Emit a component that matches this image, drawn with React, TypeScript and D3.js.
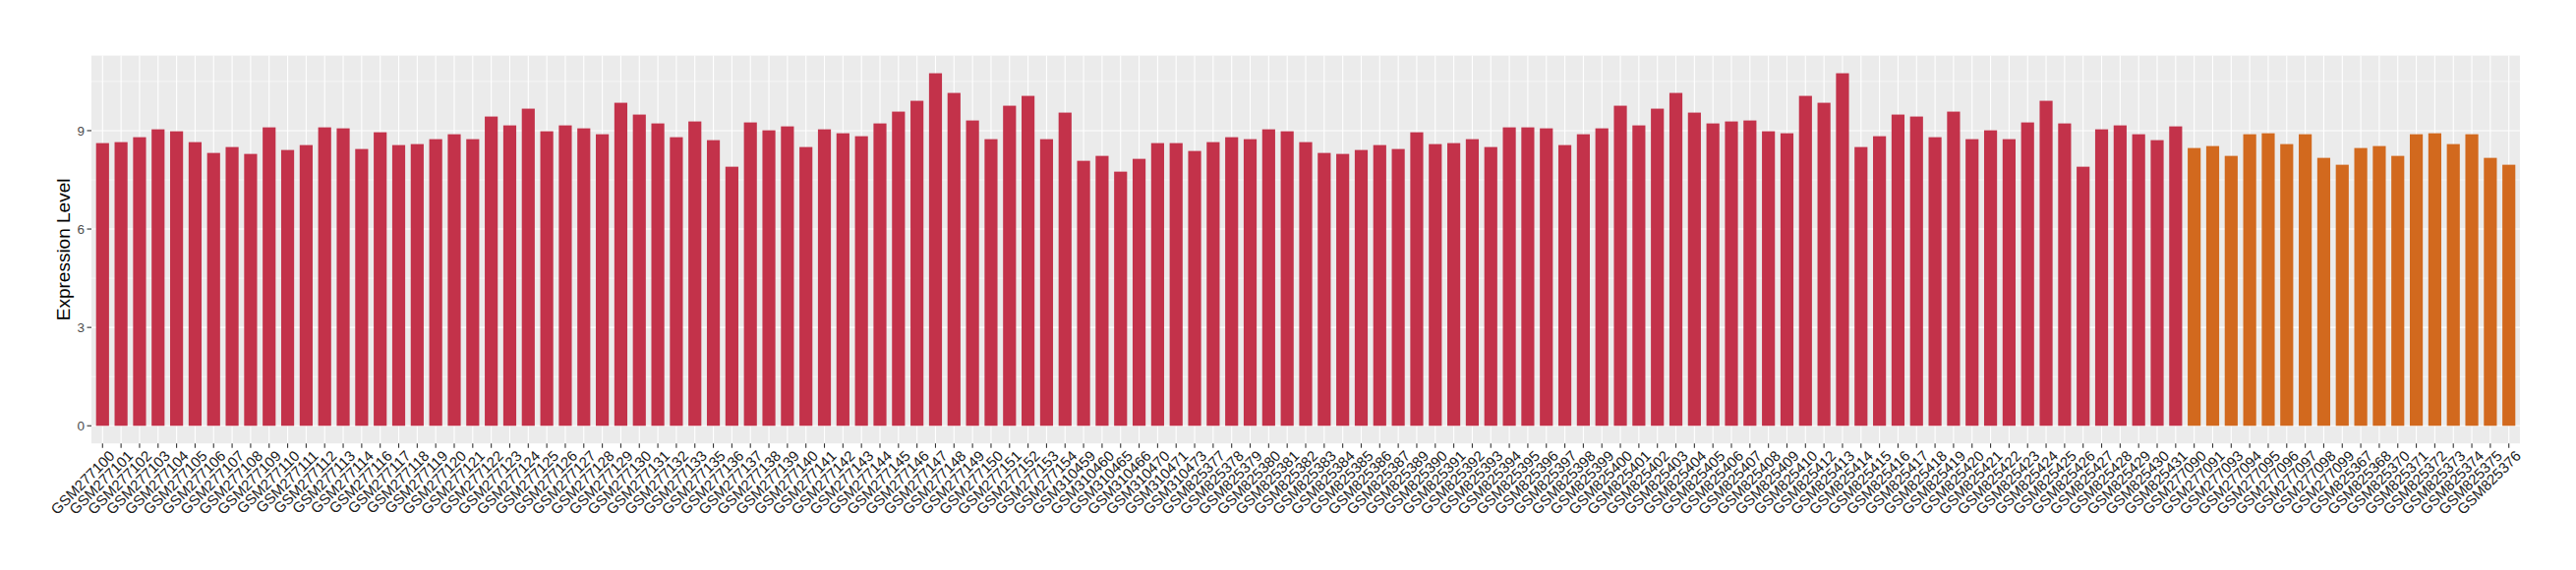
import React from "react";
import * as d3 from "d3";

const redSamples = [
  "GSM277100","GSM277101","GSM277102","GSM277103","GSM277104","GSM277105","GSM277106","GSM277107","GSM277108","GSM277109",
  "GSM277110","GSM277111","GSM277112","GSM277113","GSM277114","GSM277116","GSM277117","GSM277118","GSM277119","GSM277120",
  "GSM277121","GSM277122","GSM277123","GSM277124","GSM277125","GSM277126","GSM277127","GSM277128","GSM277129","GSM277130",
  "GSM277131","GSM277132","GSM277133","GSM277135","GSM277136","GSM277137","GSM277138","GSM277139","GSM277140","GSM277141",
  "GSM277142","GSM277143","GSM277144","GSM277145","GSM277146","GSM277147","GSM277148","GSM277149","GSM277150","GSM277151",
  "GSM277152","GSM277153","GSM277154",
  "GSM310459","GSM310460","GSM310465","GSM310466","GSM310470","GSM310471","GSM310473",
  "GSM825377","GSM825378","GSM825379","GSM825380","GSM825381","GSM825382","GSM825383","GSM825384","GSM825385","GSM825386",
  "GSM825387","GSM825389","GSM825390","GSM825391","GSM825392","GSM825393","GSM825394","GSM825395","GSM825396","GSM825397",
  "GSM825398","GSM825399","GSM825400","GSM825401","GSM825402","GSM825403","GSM825404","GSM825405","GSM825406","GSM825407",
  "GSM825408","GSM825409","GSM825410","GSM825412","GSM825413","GSM825414","GSM825415","GSM825416","GSM825417","GSM825418",
  "GSM825419","GSM825420","GSM825421","GSM825422","GSM825423","GSM825424","GSM825425","GSM825426","GSM825427","GSM825428",
  "GSM825429","GSM825430","GSM825431",
];
const redValues = [
  8.62, 8.65, 8.80, 9.04, 8.98, 8.65, 8.32, 8.50, 8.29, 9.10, 8.41, 8.56, 9.10, 9.07, 8.44, 8.95, 8.56, 8.59, 8.74, 8.89, 8.74, 9.43, 9.16, 9.67, 8.98, 9.16,
  9.07, 8.89, 9.85, 9.49, 9.22, 8.80, 9.28, 8.71, 7.90, 9.25, 9.01, 9.13, 8.50, 9.04, 8.92, 8.83, 9.22, 9.58, 9.91, 10.75, 10.15, 9.31, 8.74, 9.76, 10.06, 8.74,
  9.55, 8.08, 8.23, 7.75, 8.14, 8.62, 8.62, 8.38, 8.65, 8.80, 8.74, 9.04, 8.98, 8.65, 8.32, 8.29, 8.41, 8.56, 8.44, 8.95, 8.59, 8.62, 8.74, 8.50, 9.10, 9.10, 9.07,
  8.56, 8.89, 9.07, 9.76, 9.16, 9.67, 10.15, 9.55, 9.22, 9.28, 9.31, 8.98, 8.92, 10.06, 9.85, 10.75, 8.50, 8.83, 9.49, 9.43, 8.80, 9.58, 8.74, 9.01, 8.74, 9.25,
  9.91, 9.22, 7.90, 9.04, 9.16, 8.89, 8.71, 9.13,
];
const orangeSamples = [
  "GSM277090","GSM277091","GSM277093","GSM277094","GSM277095","GSM277096","GSM277097","GSM277098","GSM277099",
  "GSM825367","GSM825368","GSM825370","GSM825371","GSM825372","GSM825373","GSM825374","GSM825375","GSM825376",
];
const orangeValues = [8.47, 8.53, 8.23, 8.89, 8.92, 8.59, 8.89, 8.17, 7.96, 8.47, 8.53, 8.23, 8.89, 8.92, 8.59, 8.89, 8.17, 7.96];
const yTicks = [0, 3, 6, 9];
const yMinorTicks = [1.5, 4.5, 7.5, 10.5];
const groupColors = { red: "#C3324A", orange: "#D2691E" };
const yTitle = "Expression Level";

const data = [
  ...redSamples.map((s, i) => ({ sample: s, value: redValues[i], group: "red" })),
  ...orangeSamples.map((s, i) => ({ sample: s, value: orangeValues[i], group: "orange" })),
];

export default function App() {
  const W = 2620, H = 580;
  const left = 93, right = 2563, top = 56.6, bottom = 451.2;
  const font = "'Liberation Sans', Arial, Helvetica, sans-serif";
  const x = d3.scaleBand<string>()
    .domain(data.map((d) => d.sample))
    .range([left, right])
    .paddingInner(0.3)
    .paddingOuter(0.25);
  const ymax = d3.max(data, (d) => d.value) as number;
  const pad = ymax * 0.05;
  const y = d3.scaleLinear().domain([-pad, ymax + pad]).range([bottom, top]);
  const bw = x.bandwidth();
  const cx = (s: string) => (x(s) as number) + bw / 2;

  return (
    <svg width={W} height={H} style={{ position: "absolute", left: 0, top: 0, background: "#fff" }}
      fontFamily={font}>
      <rect x={left} y={top} width={right - left} height={bottom - top} fill="#EBEBEB" />
      {yMinorTicks.map((t) => (
        <line key={"mn" + t} x1={left} x2={right} y1={y(t)} y2={y(t)} stroke="#fff" strokeWidth={0.55} />
      ))}
      {yTicks.map((t) => (
        <line key={"mj" + t} x1={left} x2={right} y1={y(t)} y2={y(t)} stroke="#fff" strokeWidth={1.1} />
      ))}
      {data.map((d) => (
        <line key={"vg" + d.sample} x1={cx(d.sample)} x2={cx(d.sample)} y1={top} y2={bottom} stroke="#fff" strokeWidth={1.1} />
      ))}
      {data.map((d) => (
        <rect key={"b" + d.sample} x={x(d.sample)} width={bw} y={y(d.value)} height={y(0) - y(d.value)}
          fill={(groupColors as any)[d.group]} />
      ))}
      {yTicks.map((t) => (
        <g key={"yt" + t}>
          <line x1={left - 4.5} x2={left} y1={y(t)} y2={y(t)} stroke="#333" strokeWidth={1.1} />
          <text x={left - 7} y={y(t)} dy="0.35em" textAnchor="end" fontSize={13.5} fill="#4D4D4D">{t}</text>
        </g>
      ))}
      {data.map((d) => (
        <g key={"xt" + d.sample}>
          <line x1={cx(d.sample)} x2={cx(d.sample)} y1={bottom} y2={bottom + 4.5} stroke="#333" strokeWidth={1.1} />
          <text transform={`translate(${cx(d.sample) + 5.5},${bottom + 6}) rotate(-45)`} textAnchor="end" dy="0.72em"
            fontSize={15} fill="#1a1a1a">{d.sample}</text>
        </g>
      ))}
      <text transform={`translate(71,${(top + bottom) / 2}) rotate(-90)`} textAnchor="middle" fontSize={19} fill="#000">
        {yTitle}
      </text>
    </svg>
  );
}
